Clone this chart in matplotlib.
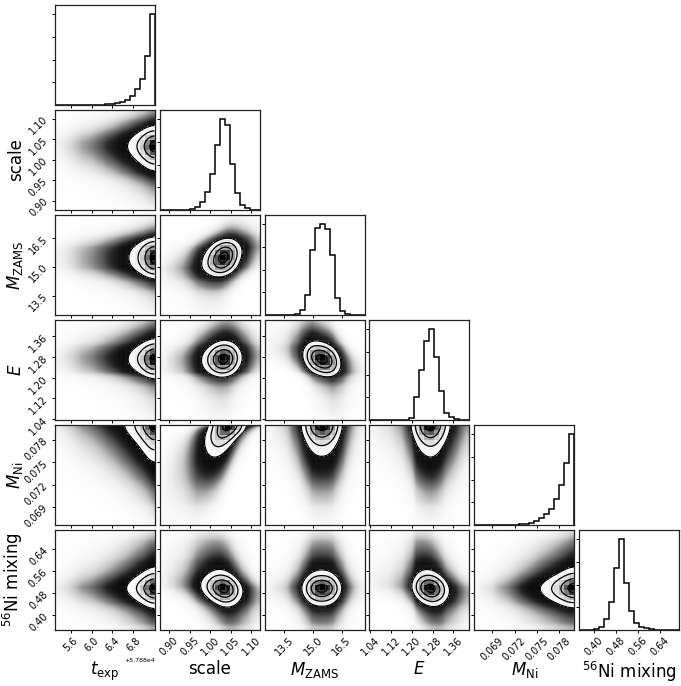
import math

import numpy as np
import matplotlib
matplotlib.use("Agg")
from matplotlib import pyplot as plt
from matplotlib.colors import LinearSegmentedColormap
from matplotlib.ticker import FixedLocator, MaxNLocator, NullFormatter, ScalarFormatter


labels = [r"$t_{\rm exp}$", "scale", r"$M_{\rm ZAMS}$", r"$E$", r"$M_{\rm Ni}$", r"$^{56}$Ni mixing"]

# plotting range of every parameter
ranges = [
    (57885.30, 57887.21),
    (0.877, 1.121),
    (12.49, 17.68),
    (1.037, 1.422),
    (0.0666, 0.0800),
    (0.347, 0.710),
]

tick_values = [
    [57885.6, 57886.0, 57886.4, 57886.8],
    [0.90, 0.95, 1.00, 1.05, 1.10],
    [13.5, 15.0, 16.5],
    [1.04, 1.12, 1.20, 1.28, 1.36],
    [0.069, 0.072, 0.075, 0.078],
    [0.40, 0.48, 0.56, 0.64],
]

# 20-bin marginal histograms (relative counts)
hist_t_exp = [0.00003, 0.00005, 0.0001, 0.0002, 0.0004, 0.0007, 0.001, 0.0015, 0.0025, 0.004,
              0.007, 0.011, 0.019, 0.033, 0.055, 0.099, 0.176, 0.29, 0.54, 1.0]
hist_scale = [0.00003, 0.0001, 0.0002, 0.0005, 0.001, 0.003, 0.01, 0.036, 0.084, 0.2,
              0.4, 0.72, 1.0, 0.93, 0.51, 0.19, 0.055, 0.018, 0.004, 0.001]
hist_mzams = [0.00002, 0.00005, 0.0001, 0.0002, 0.0006, 0.003, 0.01, 0.055, 0.22, 0.72,
              0.96, 1.0, 0.95, 0.66, 0.19, 0.045, 0.006, 0.001, 0.0002, 0.00005]
hist_e = [0.00002, 0.00004, 0.00008, 0.0001, 0.0002, 0.0005, 0.001, 0.005, 0.02, 0.25,
          0.55, 0.87, 1.0, 0.69, 0.32, 0.08, 0.03, 0.01, 0.003, 0.001]
hist_mni = [0.00001, 0.00003, 0.00006, 0.0001, 0.0003, 0.0006, 0.001, 0.002, 0.004, 0.008,
            0.014, 0.025, 0.044, 0.073, 0.116, 0.18, 0.285, 0.44, 0.68, 1.0]
hist_mixing = [0.0005, 0.002, 0.004, 0.01, 0.03, 0.12, 0.31, 0.68, 1.0, 0.52,
               0.21, 0.082, 0.037, 0.019, 0.008, 0.004, 0.002, 0.001, 0.0003, 0.0001]
hists = [hist_t_exp, hist_scale, hist_mzams, hist_e, hist_mni, hist_mixing]

# pairwise correlation (lower triangle), estimated from the tilt of the 2d panels
rho = [
    [1.0],
    [0.0, 1.0],
    [0.0, 0.35, 1.0],
    [0.0, 0.1, -0.35, 1.0],
    [-0.1, 0.65, 0.0, 0.0, 1.0],
    [0.0, -0.3, 0.0, -0.25, 0.05, 1.0],
]

n_par = len(labels)
nb = 20
n_fine = 120
step = n_fine // nb
k_dark = 5.5
gamma_dark = 0.5
sigma_levels = 1.0 - np.exp(-0.5 * np.arange(0.5, 2.1, 0.5) ** 2)

z_tab = np.linspace(-7, 7, 4001)
phi_tab = 0.5 * (1 + np.array([math.erf(z / math.sqrt(2)) for z in z_tab]))


def marginal(counts):
    c = np.asarray(counts, float)
    centers = (np.arange(nb) + 0.5) / nb
    u = (np.arange(n_fine) + 0.5) / n_fine
    pdf = np.exp(np.interp(u, centers, np.log(c)))
    pdf = pdf / pdf.mean()
    cdf = (np.cumsum(pdf) - 0.5 * pdf) / n_fine
    cdf = np.clip(cdf, 1e-7, 1 - 1e-7)
    return pdf, np.interp(cdf, phi_tab, z_tab)


margs = [marginal(h) for h in hists]


def density2d(i, j):
    px, gx = margs[j]
    py, gy = margs[i]
    r = rho[i][j]
    A, B = np.meshgrid(gx, gy)
    cop = np.exp(-(r * r * (A ** 2 + B ** 2) - 2 * r * A * B) / (2 * (1 - r * r))) / np.sqrt(1 - r * r)
    p = cop * np.outer(py, px)
    return p / p.mean()


def gblur(a, s):
    # gaussian smoothing, reflected at the borders (like corner's smooth=1)
    r = int(4 * s)
    kern = np.exp(-0.5 * (np.arange(-r, r + 1) / s) ** 2)
    kern /= kern.sum()
    ap = np.pad(a, r, mode="symmetric")
    out = np.apply_along_axis(lambda v: np.convolve(v, kern, mode="valid"), 0, ap)
    return np.apply_along_axis(lambda v: np.convolve(v, kern, mode="valid"), 1, out)


def levels_of(p):
    flat = np.sort(p.ravel())[::-1]
    cum = np.cumsum(flat)
    cum /= cum[-1]
    V = [flat[min(np.searchsorted(cum, lv), flat.size - 1)] for lv in sigma_levels]
    return np.sort(V)


density_cmap = LinearSegmentedColormap.from_list("density_cmap", [(0, 0, 0, 1), (1, 1, 1, 0)])

fig, axes = plt.subplots(n_par, n_par, figsize=(6.81, 6.86), dpi=100)
fig.subplots_adjust(left=55 / 681, right=679 / 681, bottom=1 - 630 / 686, top=1 - 5 / 686,
                    wspace=0.05, hspace=0.05)

for i in range(n_par):
    for j in range(n_par):
        ax = axes[i, j]
        if j > i:
            ax.set_visible(False)
            continue
        x0, x1 = ranges[j]
        ax.tick_params(direction="out", length=2.5, width=0.7, labelsize=7, pad=1.5)
        for s in ax.spines.values():
            s.set_linewidth(0.9)
            s.set_color("#222222")

        if i == j:
            counts = np.asarray(hists[i])
            edges = np.linspace(x0, x1, nb + 1)
            ax.stairs(counts, edges, color="k", linewidth=1.1, baseline=0)
            ax.set_ylim(0, 1.1 * counts.max())
            ax.yaxis.set_major_locator(MaxNLocator(5, prune="lower"))
            ax.yaxis.set_major_formatter(NullFormatter())
        else:
            y0, y1 = ranges[i]
            p = density2d(i, j)
            ps = gblur(p, step)
            V = levels_of(ps)
            xe = np.linspace(x0, x1, n_fine + 1)
            ye = np.linspace(y0, y1, n_fine + 1)
            xc = 0.5 * (xe[1:] + xe[:-1])
            yc = 0.5 * (ye[1:] + ye[:-1])
            # cloud of samples
            dark = 1 - np.exp(-k_dark * (p / V[0]) ** gamma_dark)
            ax.imshow(dark, extent=(x0, x1, y0, y1), origin="lower",
                      aspect="auto", cmap="Greys", vmin=0, vmax=1, interpolation="bilinear", zorder=0)
            ax.contourf(xc, yc, ps, [V[0], ps.max() * 1.0001], colors="white", antialiased=False, zorder=1)
            H = ps.reshape(nb, step, nb, step).mean(axis=(1, 3))
            ax.pcolormesh(np.linspace(x0, x1, nb + 1), np.linspace(y0, y1, nb + 1), H.max() - H,
                          cmap=density_cmap, zorder=2)
            ax.contour(xc, yc, ps, V, colors="k", linewidths=0.9, zorder=3)
            ax.set_ylim(y0, y1)
            ax.yaxis.set_major_locator(FixedLocator(tick_values[i]))
            if j == 0:
                ax.set_ylabel(labels[i], fontsize=12)
                ax.yaxis.set_label_coords(-0.3, 0.5)
                plt.setp(ax.get_yticklabels(), rotation=45)
            else:
                ax.yaxis.set_major_formatter(NullFormatter())

        ax.set_xlim(x0, x1)
        ax.xaxis.set_major_locator(FixedLocator(tick_values[j]))
        if i == n_par - 1:
            ax.xaxis.set_major_formatter(ScalarFormatter(useOffset=True))
            ax.set_xlabel(labels[j], fontsize=12)
            ax.xaxis.set_label_coords(0.5, -0.3)
            plt.setp(ax.get_xticklabels(), rotation=45)
            ax.xaxis.get_offset_text().set_fontsize(4.5)
        else:
            ax.xaxis.set_major_formatter(NullFormatter())

fig.savefig("out.png", dpi=100)
